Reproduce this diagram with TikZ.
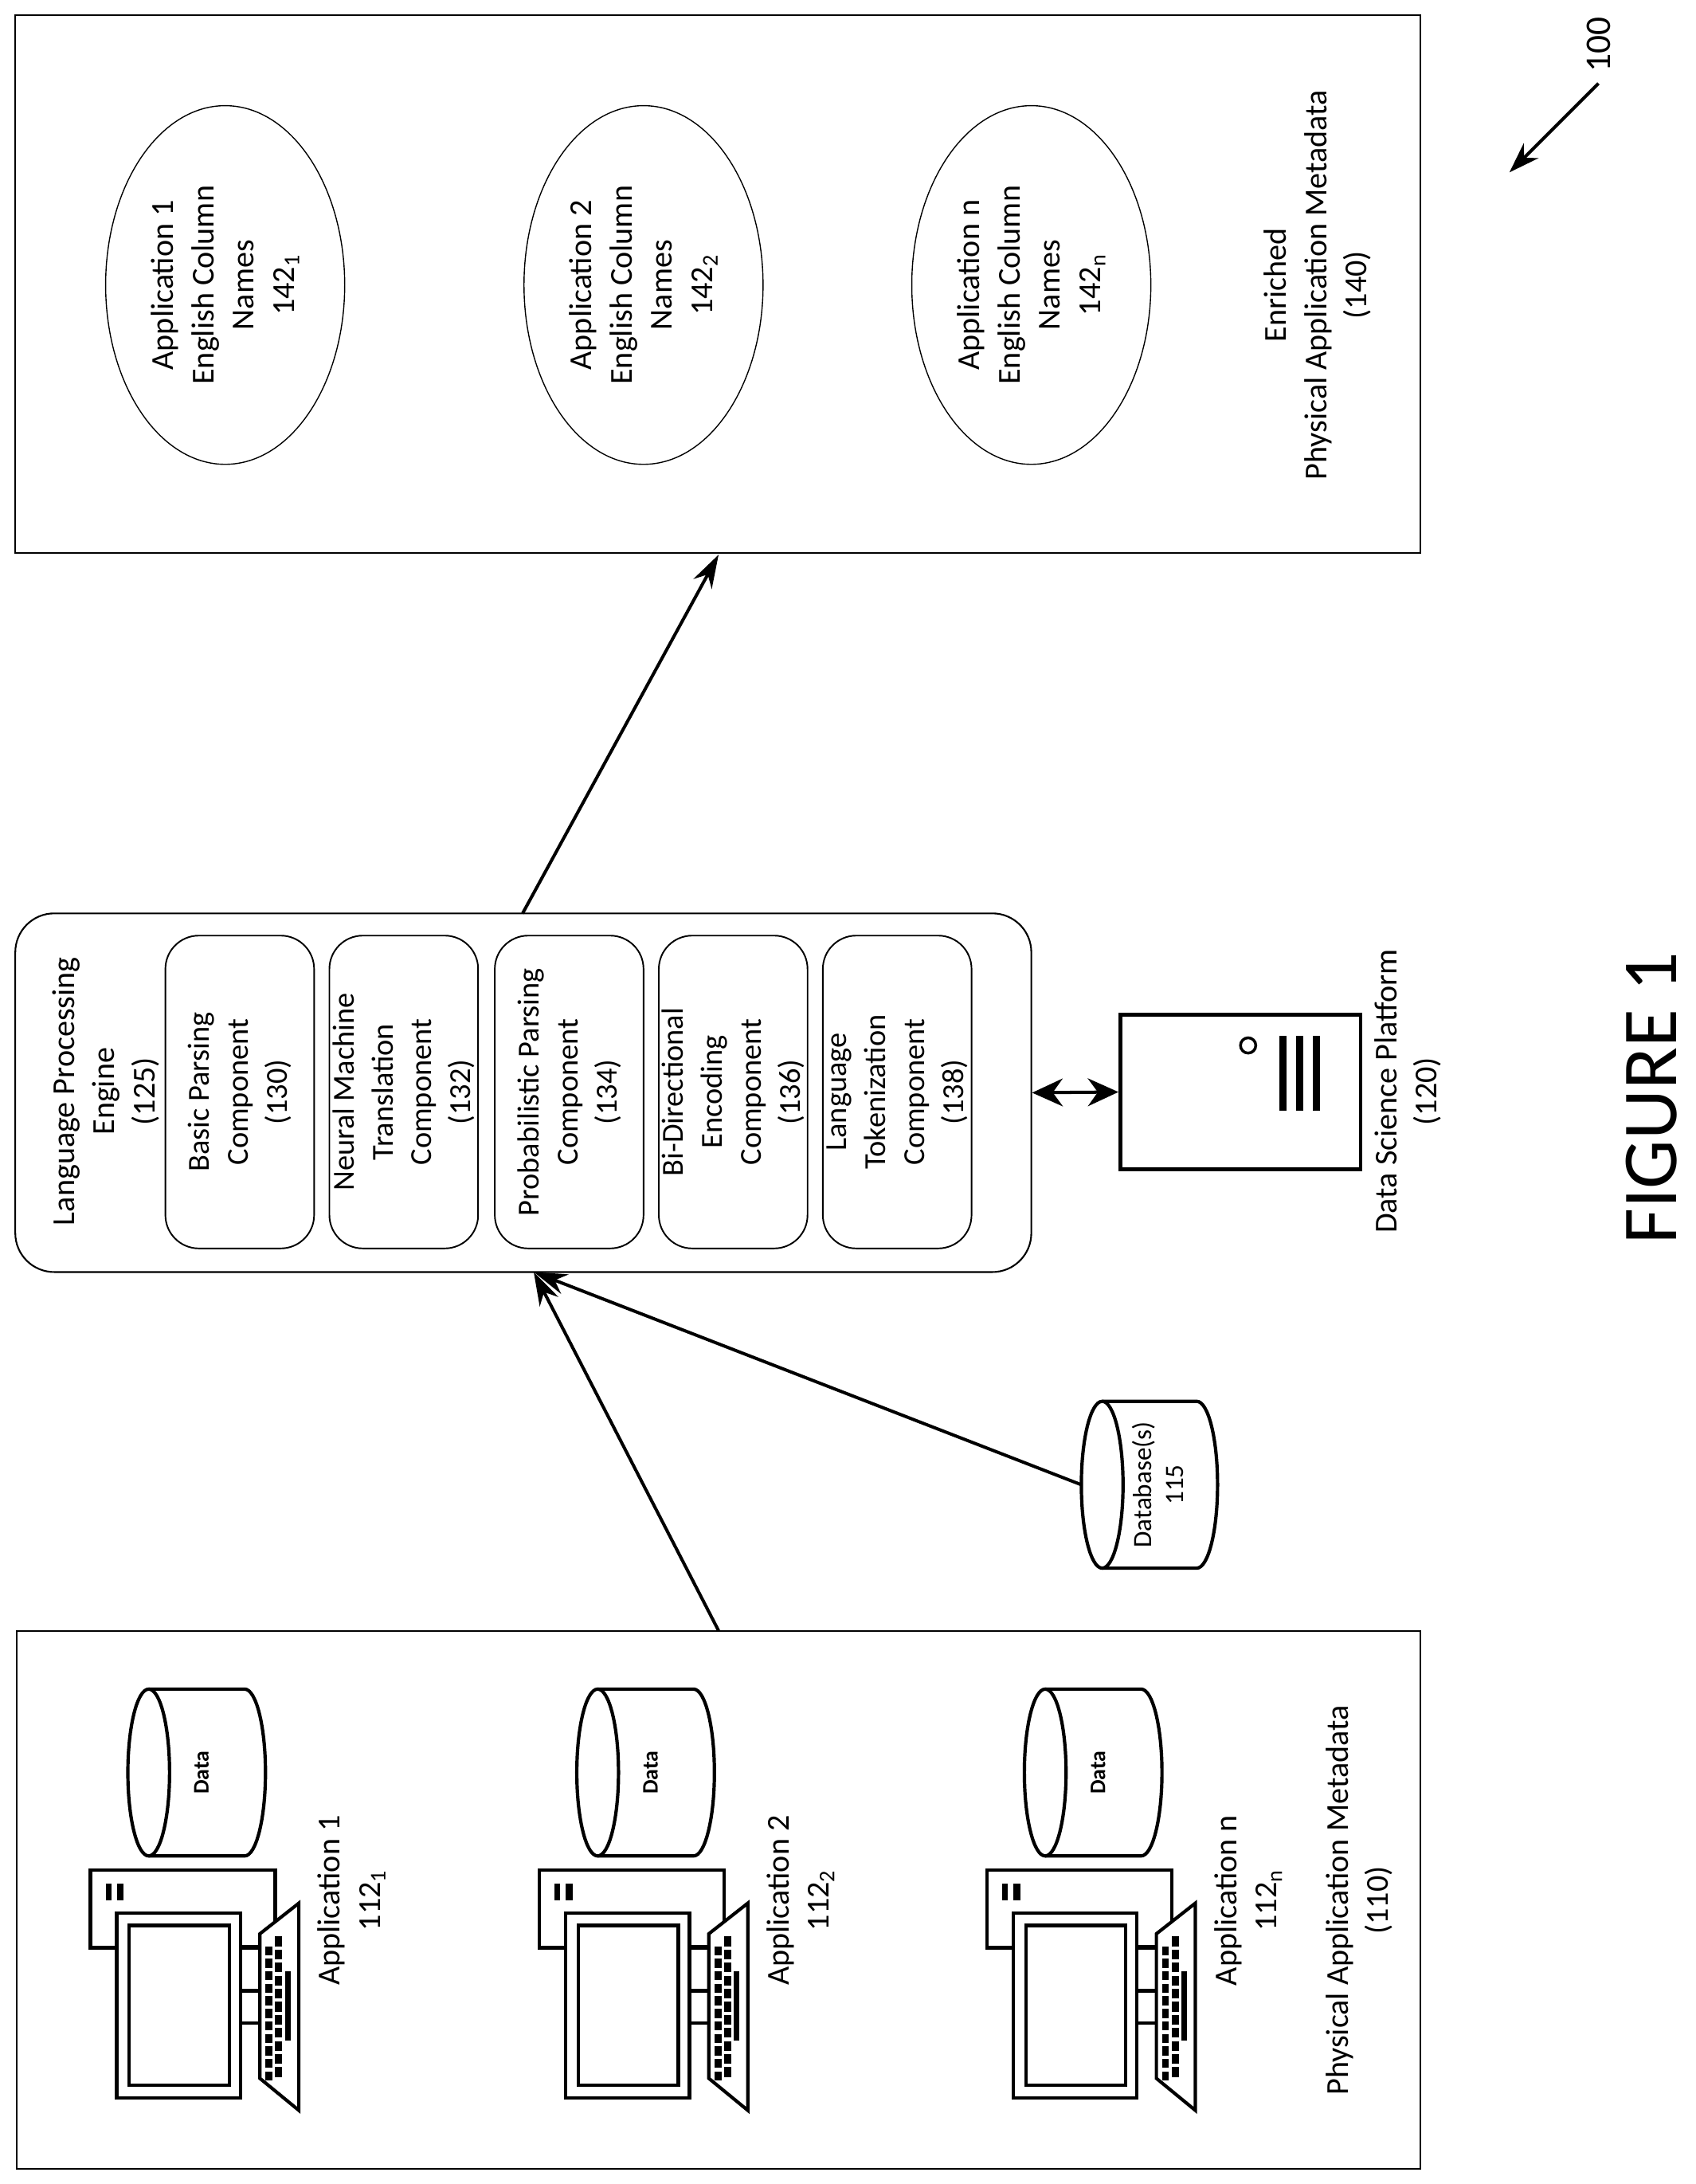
\documentclass[tikz,border=0pt]{standalone}
\usepackage{fontspec}
\setmainfont{Carlito}
\usetikzlibrary{arrows.meta,shapes.geometric}
\begin{document}
\begin{tikzpicture}[x=1pt,y=-1pt,
  txt/.style={rotate=90,align=center,font=\fontsize{23}{29}\selectfont,inner sep=0},
  ctxt/.style={txt,font=\fontsize{22}{28}\selectfont},
  thinbox/.style={draw,line width=1.2pt},
  comp/.style={draw,line width=1.1pt,rounded corners=24pt,minimum width=107pt,minimum height=225pt,inner sep=0},
  arr/.style={line width=2.3pt,-{Stealth[length=24pt,width=15pt]}},
  heavy/.style={line width=2.4pt},
  ell/.style={draw,ellipse,line width=0.8pt,minimum width=172pt,minimum height=258pt,inner sep=0}]
\useasboundingbox (0,0) rectangle (1220,1571);
\fill[white] (0,0) rectangle (1220,1571);
% top box 140
\node[thinbox,minimum width=1011pt,minimum height=387pt,inner sep=0] (top) at (516.5,204.5) {};
\node[ell] (e1) at (162,205) {};
\node[ell] (e2) at (463,205) {};
\node[ell] (e3) at (742,205) {};
\node[txt] (t1) at (162,205) {Application 1\\English Column\\Names\\142\textsubscript{1}};
\node[txt] (t2) at (463,205) {Application 2\\English Column\\Names\\142\textsubscript{2}};
\node[txt] (t3) at (742,205) {Application n\\English Column\\Names\\142\textsubscript{n}};
\node[txt] (enr) at (948,205) {Enriched\\Physical Application Metadata\\(140)};
% 100
\node[txt,font=\fontsize{26}{30}\selectfont] (n100) at (1150,32) {100};
\coordinate (a100s) at (1150,60);
\coordinate (a100e) at (1086,124);
\draw[line width=2.3pt,-{Stealth[length=22pt,width=15pt]}] (a100s) -- (a100e);
% LPE
\node[draw,line width=1.2pt,rounded corners=28pt,minimum width=731pt,minimum height=258pt,inner sep=0] (lpe) at (376.5,786) {};
\node[txt] (lpet) at (76,785) {Language Processing\\Engine\\(125)};
\node[comp] (c1) at (172.5,785.5) {};
\node[comp] (c2) at (290.5,785.5) {};
\node[comp] (c3) at (409.5,785.5) {};
\node[comp] (c4) at (527.5,785.5) {};
\node[comp] (c5) at (645.5,785.5) {};
\node[ctxt] at (c1) {Basic Parsing\\Component\\(130)};
\node[ctxt] at (c2) {Neural Machine\\Translation\\Component\\(132)};
\node[ctxt] at (c3) {Probabilistic Parsing\\Component\\(134)};
\node[ctxt] at (c4) {Bi-Directional\\Encoding\\Component\\(136)};
\node[ctxt] at (c5) {Language\\Tokenization\\Component\\(138)};
\coordinate (lpetop) at (376,657);
\coordinate (toparr) at (517,399);
\draw[arr] (lpetop) -- (toparr);
% server
\node[draw,line width=2.6pt,minimum width=173pt,minimum height=111pt,inner sep=0] (srv) at (892.5,785.5) {};
\draw[line width=2pt] (898,752) circle (5.5pt);
\foreach \x in {923,935,947}{\fill (\x-2.6,745) rectangle (\x+2.6,799);}
\node[txt] (srvt) at (1013,785) {Data Science Platform\\(120)};
\draw[line width=2.3pt,{Stealth[length=22pt,width=20pt]}-{Stealth[length=22pt,width=20pt]}] (lpe.east) -- (srv.west);
% database 115
\coordinate (dbl) at (778,1068);
\draw[heavy,fill=white] (793,1008) -- (861,1008) arc[start angle=-90,end angle=90,x radius=15,y radius=60] -- (793,1128);
\draw[heavy] (793,1068) ellipse [x radius=15,y radius=60];
\node[txt,font=\fontsize{19}{23}\selectfont] (db) at (833,1068) {Database(s)\\115};
\coordinate (lpebot) at (384,915);
\draw[arr] (dbl) -- (lpebot);
% bottom box 110
\node[thinbox,minimum width=1010pt,minimum height=387pt,inner sep=0] (bot) at (517,1366.5) {};
\coordinate (bottop) at (517,1173);
\draw[arr] (bottop) -- (lpebot);
\foreach \dx/\nm/\sb in {0/1/1, 323/2/2, 645/n/n}{
  \begin{scope}[xshift=\dx pt]
    \draw[heavy] (107,1215) -- (176,1215) arc[start angle=-90,end angle=90,x radius=15,y radius=60] -- (107,1335);
    \draw[heavy] (107,1275) ellipse [x radius=15,y radius=60];
    \node[txt,font=\bfseries\fontsize{16}{20}\selectfont] at (145,1275) {Data};
    \draw[heavy] (173,1401) -- (198,1401) -- (198,1345) -- (65,1345) -- (65,1401) -- (84,1401);
    \fill (76,1355) rectangle (80,1367);
    \fill (84,1355) rectangle (89,1367);
    \draw[heavy] (84,1376) rectangle (173,1509);
    \draw[heavy] (93,1385) rectangle (165,1500);
    \foreach \y in {1400,1432,1455} {\draw[heavy] (173,\y) -- (187,\y);}
    \draw[heavy,fill=white] (187,1391) -- (215,1369) -- (215,1518) -- (187,1495) -- cycle;
    \foreach \i in {0,...,10} {
      \fill (191,1400+9*\i) rectangle (196,1406.5+9*\i);
      \fill (198,1393+9.4*\i) rectangle (203,1400+9.4*\i);
    }
    \fill (205,1418) rectangle (209,1468);
    \node[txt] at (253,1367) {Application \nm\\112\textsubscript{\sb}};
  \end{scope}
}
\node[txt] (pam) at (978,1367) {Physical Application Metadata\\(110)};
\node[txt,font=\fontsize{56}{66}\selectfont] (fig) at (1188,790) {FIGURE 1};
\end{tikzpicture}
\end{document}
